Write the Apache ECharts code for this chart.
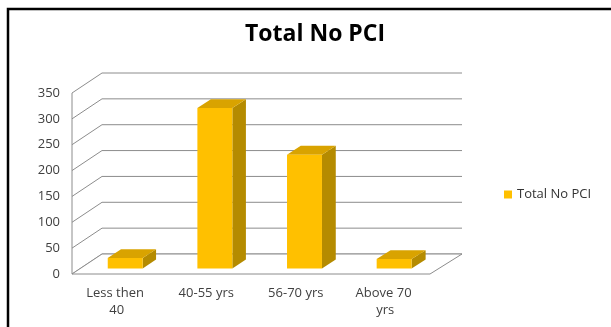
<!DOCTYPE html>
<html>
<head>
<meta charset="utf-8">
<script src="https://cdn.jsdelivr.net/npm/echarts@6/dist/echarts.min.js"></script>
<style>
  html, body { margin: 0; padding: 0; background: #fff; }
  #chart { width: 611px; height: 327px; }
</style>
</head>
<body>
<div id="chart"></div>
<script>
// data
const categories = ['Less then 40', '40-55 yrs', '56-70 yrs', 'Above 70 yrs'];
const totalNoPci = [20, 310, 220, 18];
const yTicks = [0, 50, 100, 150, 200, 250, 300, 350];

// fake 3d: back wall sits 30..32px right, 20px up from the front plane
const DEPTH_DY = 20;
function proj (x, y, d, rect) {
  let dx = 30 + 2 * (x - rect.x) / rect.width;
  return [x + d * dx, y - d * DEPTH_DY];
}

const gridColor = '#8c8c8c';

let myChart = echarts.init(document.getElementById('chart'));
let option = {
  animation: false,
  title: {
    text: 'Total No PCI',
    left: 240,
    top: 18,
    textStyle: {
      fontFamily: 'Open Sans',
      fontWeight: 'bold',
      fontSize: 23,
      color: '#000'
    }
  },
  legend: {
    data: ['Total No PCI'],
    left: 499,
    top: 183,
    icon: 'rect',
    itemWidth: 8,
    itemHeight: 8,
    itemGap: 5,
    textStyle: {
      fontFamily: 'Open Sans',
      fontSize: 13,
      color: '#333'
    }
  },
  grid: {
    left: 72,
    right: 181,
    top: 93,
    bottom: 53
  },
  xAxis: {
    type: 'category',
    data: categories,
    axisLine: { show: false },
    axisTick: { show: false },
    axisLabel: {
      margin: 11,
      interval: 0,
      width: 72,
      overflow: 'break',
      lineHeight: 17,
      fontFamily: 'Open Sans',
      fontSize: 13,
      color: '#404040'
    }
  },
  yAxis: {
    type: 'value',
    min: 0,
    max: 350,
    interval: 50,
    axisLine: { show: false },
    axisTick: { show: false },
    splitLine: { show: false },
    axisLabel: {
      margin: 12,
      fontFamily: 'Open Sans',
      fontSize: 13,
      color: '#404040'
    }
  },
  graphic: [{
    type: 'rect',
    shape: { x: 8, y: 9, width: 700, height: 400 },
    style: { fill: 'none', stroke: '#000', lineWidth: 2.5 },
    silent: true
  }],
  series: [
    {
      // walls + floor
      type: 'custom',
      name: 'walls',
      silent: true,
      z: 1,
      data: yTicks,
      encode: { y: 0 },
      renderItem (params, api) {
        let rect = params.coordSys;
        let v = api.value(0);
        let y = api.coord([0, v])[1];
        let x0 = rect.x, x1 = rect.x + rect.width;
        let style = { stroke: gridColor, lineWidth: 1, fill: null };
        let children = [];
        let bl = proj(x0, y, 1, rect);
        let br = proj(x1, y, 1, rect);
        children.push({ type: 'line', shape: { x1: x0, y1: y, x2: bl[0], y2: bl[1] }, style });
        children.push({ type: 'line', shape: { x1: bl[0], y1: bl[1], x2: br[0], y2: br[1] }, style });
        if (v === 0) {
          // floor
          children.push({
            type: 'polygon',
            shape: { points: [[x0, y], [x1, y], br, bl] },
            style: { fill: '#fff', stroke: gridColor, lineWidth: 1 }
          });
          let top = api.coord([0, yTicks[yTicks.length - 1]])[1];
          children.push({ type: 'line', shape: { x1: x0, y1: y, x2: x0, y2: top }, style });
        }
        return { type: 'group', children };
      }
    },
    {
      type: 'custom',
      name: 'Total No PCI',
      z: 2,
      itemStyle: { color: '#FFC000' },
      data: totalNoPci.map((v, i) => [i, v]),
      encode: { x: 0, y: 1 },
      renderItem (params, api) {
        let rect = params.coordSys;
        let i = api.value(0);
        let base = api.coord([i, 0]);
        let top = api.coord([i, api.value(1)]);
        let w = api.size([1, 0])[0] * 0.39;
        let l = base[0] - w / 2, r = base[0] + w / 2;
        let d0 = 0.28, d1 = 0.72;
        let ftl = proj(l, top[1], d0, rect), ftr = proj(r, top[1], d0, rect);
        let fbl = proj(l, base[1], d0, rect), fbr = proj(r, base[1], d0, rect);
        let btl = proj(l, top[1], d1, rect), btr = proj(r, top[1], d1, rect);
        let bbr = proj(r, base[1], d1, rect);
        return {
          type: 'group',
          children: [
            { type: 'polygon', shape: { points: [ftr, btr, bbr, fbr] }, style: { fill: '#B58B00' } },
            { type: 'polygon', shape: { points: [ftl, ftr, btr, btl] }, style: { fill: '#D9A300' } },
            { type: 'polygon', shape: { points: [ftl, ftr, fbr, fbl] }, style: { fill: '#FFC000' } }
          ]
        };
      }
    }
  ]
};
myChart.setOption(option);
</script>
</body>
</html>
